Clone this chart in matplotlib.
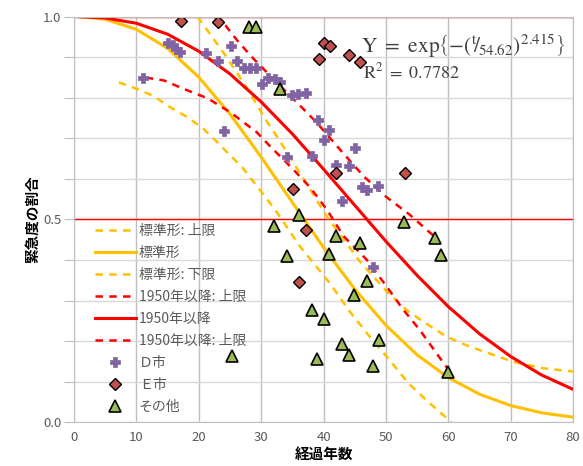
import numpy as np
import matplotlib
matplotlib.use("Agg")
import matplotlib.pyplot as plt

plt.rcParams['font.family'] = ['Noto Sans CJK JP', 'DejaVu Sans']
plt.rcParams['mathtext.fontset'] = 'stix'

# fitted curves, every 5 years
years_fit = [1, 5, 10, 15, 20, 25, 30, 35, 40, 45, 50, 55, 60, 65, 70, 75, 80]
std_mid = [1.0, 0.994, 0.969, 0.922, 0.851, 0.760, 0.654, 0.542, 0.431, 0.328,
           0.239, 0.166, 0.110, 0.069, 0.041, 0.023, 0.0125]
post1950_mid = [1.0, 0.997, 0.984, 0.957, 0.915, 0.859, 0.790, 0.711, 0.624, 0.535,
                0.446, 0.362, 0.285, 0.218, 0.162, 0.116, 0.081]

# confidence bands (irregular, read point by point)
std_up_t = [19.8, 21.4, 24.3, 27.5, 30.7, 33.3, 37.0, 40.5, 45.8, 50.1, 53.3, 56.0,
            59.7, 63.5, 70.4, 75.2, 80.0]
std_up_y = [1.0, 0.966, 0.904, 0.83, 0.747, 0.686, 0.595, 0.508, 0.397, 0.323, 0.277,
            0.248, 0.211, 0.186, 0.149, 0.133, 0.125]
std_lo_t = [7.2, 10.1, 12.8, 15.5, 18.2, 20.8, 23.0, 25.1, 27.0, 32.2, 36.2, 41.0,
            44.2, 47.4, 50.6, 53.6, 57.0, 60.5]
std_lo_y = [0.838, 0.822, 0.804, 0.776, 0.752, 0.723, 0.69, 0.657, 0.628, 0.525, 0.434,
            0.343, 0.273, 0.211, 0.153, 0.096, 0.047, 0.0]
p50_up_t = [22.5, 24.3, 26.4, 28.8, 30.4, 31.9, 35.7, 38.9, 42.6, 46.4, 50.1, 53.8,
            56.5, 58.4]
p50_up_y = [1.0, 0.978, 0.937, 0.896, 0.871, 0.847, 0.789, 0.739, 0.673, 0.607, 0.555,
            0.512, 0.475, 0.45]
p50_lo_t = [11.5, 14.4, 17.6, 21.4, 25.1, 29.3, 31.4, 35.1, 37.8, 40.5, 43.2, 46.9,
            50.1, 52.8, 55.4, 58.1, 60.0]
p50_lo_y = [0.85, 0.843, 0.822, 0.799, 0.764, 0.715, 0.681, 0.624, 0.58, 0.525, 0.459,
            0.401, 0.335, 0.277, 0.228, 0.17, 0.13]

# observed points
d_t = [11, 15, 15.8, 16.3, 17, 21.1, 23.1, 25.1, 26.1, 27.2, 28.2, 29.1, 30.1, 31.1,
       32.2, 33, 24.1, 34.9, 35.9, 37.2, 39.1, 40.9, 40.1, 45, 38.1, 42, 44, 34.1,
       46.2, 46.9, 48.8, 43, 48]
d_y = [0.85, 0.935, 0.93, 0.92, 0.912, 0.91, 0.892, 0.927, 0.892, 0.873, 0.873, 0.873,
       0.834, 0.85, 0.847, 0.838, 0.718, 0.807, 0.809, 0.813, 0.745, 0.72, 0.697, 0.677,
       0.657, 0.634, 0.633, 0.653, 0.58, 0.572, 0.582, 0.545, 0.382]
e_t = [17.1, 23.1, 40.1, 41, 39.2, 44, 45.9, 42, 53, 35.1, 37.2, 36.1]
e_y = [0.99, 0.987, 0.935, 0.927, 0.896, 0.906, 0.889, 0.614, 0.614, 0.574, 0.473, 0.347]
o_t = [28, 29.1, 33, 36.1, 32.1, 52.9, 42, 45.9, 34.1, 40.9, 57.9, 58.9, 46.9, 44.9,
       38.1, 40.1, 48.9, 43, 44, 39, 47.9, 25.3, 60]
o_y = [0.975, 0.975, 0.823, 0.512, 0.483, 0.493, 0.459, 0.442, 0.411, 0.416, 0.455,
       0.412, 0.349, 0.313, 0.277, 0.255, 0.203, 0.193, 0.166, 0.156, 0.139, 0.164, 0.125]

yellow = '#FFC000'
red = '#FF0000'
grey_txt = '#595959'

fig = plt.figure(figsize=(5.83, 4.66), dpi=100)
ax = fig.add_axes([0.127, 0.094, 0.856, 0.870])

ax.plot(std_up_t, std_up_y, color=yellow, lw=1.8, ls=(0, (3, 2.5)), label='標準形: 上限')
ax.plot(years_fit, std_mid, color=yellow, lw=2.2, label='標準形')
ax.plot(std_lo_t, std_lo_y, color=yellow, lw=1.8, ls=(0, (3, 2.5)), label='標準形: 下限')
ax.plot(p50_up_t, p50_up_y, color=red, lw=1.8, ls=(0, (3, 2.5)), label='1950年以降: 上限')
ax.plot(years_fit, post1950_mid, color=red, lw=2.2, label='1950年以降')
ax.plot(p50_lo_t, p50_lo_y, color=red, lw=1.8, ls=(0, (3, 2.5)), label='1950年以降: 上限')

ax.plot(d_t, d_y, 'P', color='#8064A2', ms=7, mec='#8064A2', mew=0.5, ls='none', label='Ｄ市')
ax.plot(e_t, e_y, 'D', color='#C0504D', ms=6, mec='black', mew=1.0, ls='none', label='Ｅ市')
ax.plot(o_t, o_y, '^', color='#9BBB59', ms=8.5, mec='black', mew=1.2, ls='none', label='その他')

ax.axhline(1.0, color=red, lw=1.0, zorder=1)
ax.axhline(0.5, color=red, lw=1.0, zorder=1)

ax.set_xlim(0, 80)
ax.set_ylim(0, 1.0)
ax.set_xticks(np.arange(0, 81, 10))
ax.set_yticks(np.arange(0, 1.01, 0.1))
ax.set_yticklabels(['0.0', '', '', '', '', '0.5', '', '', '', '', '1.0'])
ax.grid(axis='x', color='#BFBFBF', lw=1.0)
ax.grid(axis='y', color='#D9D9D9', lw=1.0)
ax.set_axisbelow(True)
for s in ax.spines.values():
    s.set_color('#BFBFBF')
ax.tick_params(axis='x', length=0, pad=6, labelsize=9.5, labelcolor=grey_txt)
ax.tick_params(axis='y', length=7, color='#BFBFBF', pad=2, labelsize=9.5, labelcolor=grey_txt)

ax.set_xlabel('経過年数', fontsize=10.5, fontweight='bold', labelpad=2)
ax.set_ylabel('緊急度の割合', fontsize=10.5, fontweight='bold', labelpad=2)

ax.text(46.0, 0.928,
        r'$\mathrm{Y}\ =\ \mathrm{exp}\left\{-\left({}^{\mathrm{t}}\!/_{\!54.62}\right)^{2.415}\right\}$',
        fontsize=15.5, color='#404040', va='center', ha='left')
ax.text(46.4, 0.862, r'$\mathrm{R}^2\ =\ 0.7782$', fontsize=13, color='#404040',
        va='center', ha='left')

leg = ax.legend(loc='upper left', bbox_to_anchor=(0.03, 0.503), frameon=False,
                fontsize=10, handlelength=3.0, labelspacing=0.58, handletextpad=0.2,
                borderaxespad=0)
for t in leg.get_texts():
    t.set_color(grey_txt)

fig.savefig('out.png', dpi=100)
